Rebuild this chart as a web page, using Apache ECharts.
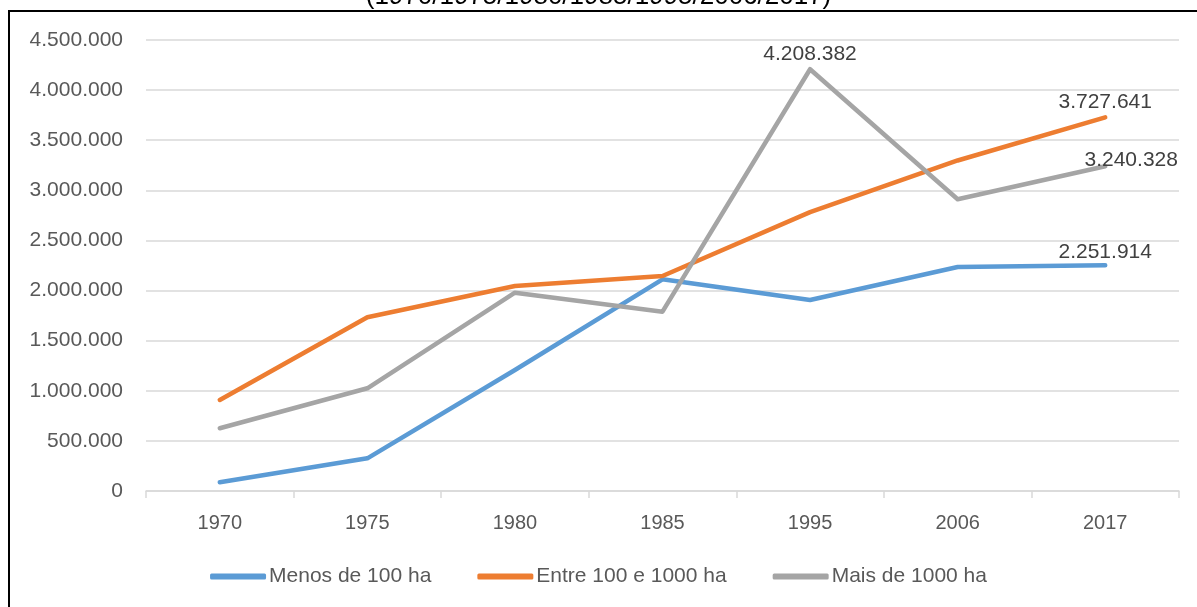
<!DOCTYPE html>
<html>
<head>
<meta charset="utf-8">
<script src="https://cdn.jsdelivr.net/npm/echarts@6/dist/echarts.min.js"></script>
<style>html,body{margin:0;padding:0;background:#fff}#c{width:1197px;height:607px}</style>
</head>
<body>
<div id="c"></div>
<script>
const titleText = '(1970/1975/1980/1985/1995/2006/2017)';
const categories = ['1970', '1975', '1980', '1985', '1995', '2006', '2017'];
const seriesNames = ['Menos de 100 ha', 'Entre 100 e 1000 ha', 'Mais de 1000 ha'];
const menos100 = [88000, 326000, 1207000, 2112000, 1906000, 2235000, 2251914];
const entre100e1000 = [908000, 1733000, 2046000, 2145000, 2783000, 3298000, 3727641];
const mais1000 = [626000, 1025000, 1979000, 1789000, 4208382, 2911000, 3240328];
const yTicks = [0, 500000, 1000000, 1500000, 2000000, 2500000, 3000000, 3500000, 4000000, 4500000];
// indices of points that carry a data label, per series
const labelled = [[6], [6], [4, 6]];

function fmt(v) {
  return String(Math.round(v)).replace(/\B(?=(\d{3})+(?!\d))/g, '.');
}

const colors = ['#5b9bd5', '#ed7d31', '#a5a5a5'];
// label anchor shift (dx, dy) relative to the point, text is centred / bottom aligned
const labelShift = [
  {6: [0, -3]},
  {6: [0, -5]},
  {4: [0, -5], 6: [26, 4]}
];
const values = [menos100, entre100e1000, mais1000];
const SYM = 2;

const chart = echarts.init(document.getElementById('c'), null, {renderer: 'canvas'});
const series = values.map((vals, si) => ({
  name: seriesNames[si],
  type: 'line',
  data: vals.map((v, i) => {
    const item = {value: v};
    if (labelled[si].indexOf(i) >= 0) {
      const sh = labelShift[si][i];
      item.label = {
        show: true,
        position: [SYM / 2 + sh[0], SYM / 2 + sh[1]],
        align: 'center',
        verticalAlign: 'bottom',
        formatter: p => fmt(p.value),
        color: '#404040',
        fontSize: 21,
        fontFamily: 'Liberation Sans'
      };
    }
    return item;
  }),
  symbol: 'circle',
  symbolSize: SYM,
  showSymbol: true,
  showAllSymbol: true,
  label: {show: false},
  lineStyle: {width: 4.5, color: colors[si], cap: 'round', join: 'round'},
  itemStyle: {color: colors[si]},
  emphasis: {disabled: true},
  silent: true,
  animation: false
}));

chart.setOption({
  animation: false,
  color: colors,
  grid: {left: 146, right: 18, top: 40, bottom: 116, containLabel: false},
  xAxis: {
    type: 'category',
    data: categories,
    boundaryGap: true,
    axisLine: {show: true, lineStyle: {color: '#d9d9d9', width: 1.5}},
    axisTick: {show: true, length: 7, lineStyle: {color: '#d9d9d9', width: 1.5}},
    axisLabel: {color: '#595959', fontSize: 20, fontFamily: 'Liberation Sans', margin: 22}
  },
  yAxis: {
    type: 'value',
    min: yTicks[0],
    max: yTicks[yTicks.length - 1],
    interval: yTicks[1] - yTicks[0],
    axisLine: {show: false},
    axisTick: {show: false},
    splitLine: {lineStyle: {color: '#d9d9d9', width: 1.5}},
    axisLabel: {color: '#595959', fontSize: 21, fontFamily: 'Liberation Sans', margin: 23, formatter: v => fmt(v)}
  },
  legend: {
    data: seriesNames,
    bottom: 15,
    left: 'center',
    itemWidth: 56,
    itemHeight: 6,
    itemGap: 46,
    icon: 'roundRect',
    textStyle: {color: '#595959', fontSize: 21, fontFamily: 'Liberation Sans', padding: [0, 0, 0, -2]},
    selectedMode: false
  },
  graphic: [
    {
      type: 'text',
      left: 'center',
      top: -16,
      silent: true,
      style: {text: titleText, font: '26px "Liberation Sans"', fill: '#000'}
    },
    {
      type: 'polyline',
      silent: true,
      shape: {points: [[9, 620], [9, 11], [1200, 11]]},
      style: {stroke: '#000', lineWidth: 2, fill: null}
    }
  ],
  series: series
});
</script>
</body>
</html>
